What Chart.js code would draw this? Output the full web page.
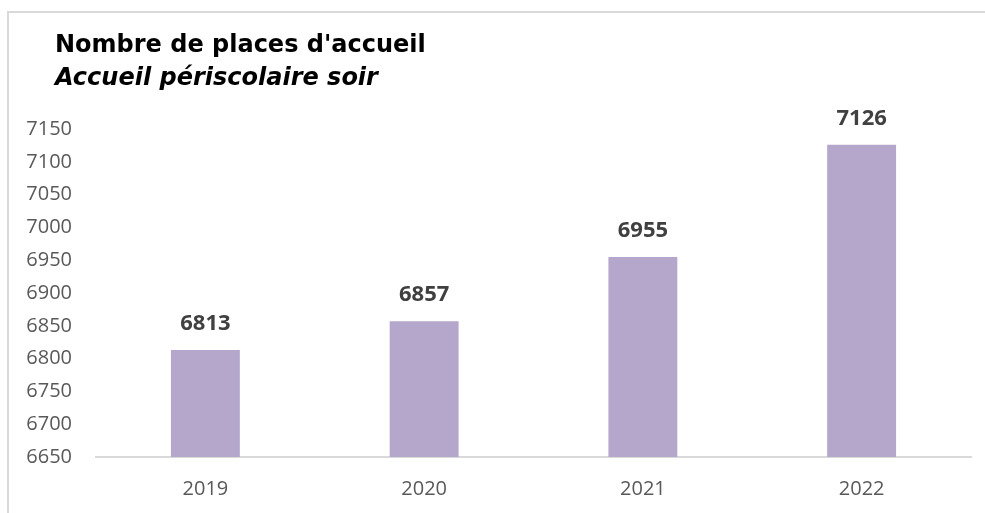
<!DOCTYPE html>
<html>
<head>
<meta charset="utf-8">
<script src="https://cdn.jsdelivr.net/npm/chart.js@4"></script>
<style>
  html, body { margin: 0; padding: 0; background: #fff; }
  #wrap { position: relative; width: 985px; height: 513px; overflow: hidden; }
  #frame { position: absolute; left: 7px; top: 11px; width: 1000px; height: 600px; border-top: 2px solid #d9d9d9; border-left: 2px solid #d9d9d9; }
  canvas { position: absolute; left: 0; top: 0; }
</style>
</head>
<body>
<div id="wrap">
  <div id="frame"></div>
  <canvas id="chartPlaces" width="985" height="513"></canvas>
</div>
<script>
// Données
const annees = ['2019', '2020', '2021', '2022'];
const places = [6813, 6857, 6955, 7126];
const titre = "Nombre de places d'accueil";
const sousTitre = 'Accueil périscolaire soir';

// Titres + étiquettes de valeurs
const etiquettes = {
    id: 'etiquettes',
    afterDatasetsDraw(chart) {
        const ctx = chart.ctx;
        ctx.save();
        ctx.fillStyle = '#404040';
        ctx.font = 'bold 22px "Open Sans"';
        ctx.textAlign = 'center';
        ctx.textBaseline = 'middle';
        chart.getDatasetMeta(0).data.forEach((bar, i) => {
            ctx.fillText(places[i], bar.x, bar.y - 26);
        });
        ctx.restore();
    },
    afterDraw(chart) {
        const ctx = chart.ctx;
        ctx.save();
        ctx.fillStyle = '#000';
        ctx.textAlign = 'left';
        ctx.textBaseline = 'alphabetic';
        ctx.font = 'bold 24px "DejaVu Sans"';
        ctx.fillText(titre, 55, 52);
        ctx.font = 'italic bold 24px "DejaVu Sans"';
        ctx.fillText(sousTitre, 55, 85);
        ctx.restore();
    }
};

new Chart(document.getElementById('chartPlaces'), {
    type: 'bar',
    data: { labels: annees, datasets: [{ data: places, backgroundColor: '#b5a6cb', categoryPercentage: 1, barPercentage: 0.315 }] },
    options: {
        responsive: false, animation: false,
        layout: { padding: { left: 0, right: 14, top: 129, bottom: 0 } },
        plugins: { legend: { display: false }, tooltip: { enabled: false } },
        scales: {
            x: {
                grid: { display: false, drawTicks: false },
                border: { display: true, color: '#d9d9d9', width: 2 },
                ticks: { color: '#595959', font: { family: 'Open Sans', size: 20 }, padding: 20 },
                afterFit(s) { s.height = 56; }
            },
            y: {
                min: 6650, max: 7150,
                grid: { display: false, drawTicks: false },
                border: { display: false },
                ticks: { stepSize: 50, color: '#595959', font: { family: 'Open Sans', size: 20 }, padding: 24, callback: v => String(v) },
                afterFit(s) { s.width = 96; }
            }
        }
    },
    plugins: [etiquettes]
});
</script>
</body>
</html>
